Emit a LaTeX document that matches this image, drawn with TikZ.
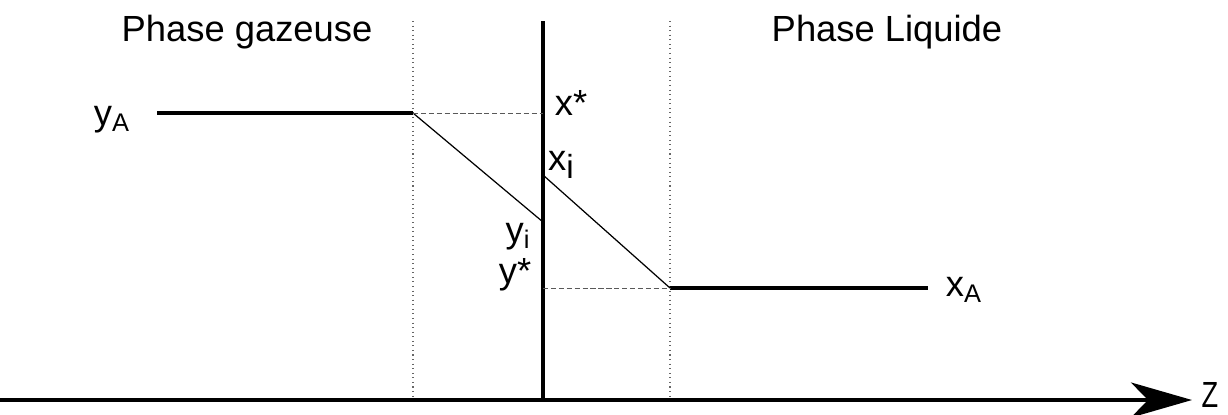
\documentclass[tikz,border=0pt]{standalone}
\usepackage{fontspec}
\setmainfont{Liberation Sans}
\usetikzlibrary{arrows.meta}

\begin{document}
\begin{tikzpicture}[x=0.02cm, y=-0.02cm]
  \tikzset{
    thick_line/.style={line width=2.3pt},
    thin_line/.style={line width=0.7pt},
    dash_line/.style={line width=0.4pt, dashed, dash pattern=on 3pt off 1.5pt, gray!70!black},
    dot_line/.style={line width=0.6pt, dotted, gray!80!black},
    big_label/.style={inner sep=0pt, font=\fontsize{20.7}{24}\selectfont}
  }

  % Bounding box
  \useasboundingbox (0,0) rectangle (1228,414);

  % Points du profil
  \coordinate (axe_debut) at (0,400);
  \coordinate (axe_fin) at (1192,400);
  \coordinate (inter_haut) at (543,21);
  \coordinate (inter_bas) at (543,400);
  \coordinate (film_g_haut) at (413,21);
  \coordinate (film_g_bas) at (413,400);
  \coordinate (film_l_haut) at (670,21);
  \coordinate (film_l_bas) at (670,400);
  \coordinate (yA_debut) at (157,113);
  \coordinate (yA_fin) at (413,113);
  \coordinate (yi_pt) at (543,222);
  \coordinate (xstar_pt) at (543,113);
  \coordinate (xi_pt) at (543,175);
  \coordinate (xA_debut) at (670,288);
  \coordinate (xA_fin) at (928,288);
  \coordinate (ystar_pt) at (543,288);

  % Axe z et interface
  \draw[thick_line, -{Stealth[length=1.22cm, width=0.7cm, inset=0.34cm]}] (axe_debut) -- (axe_fin);
  \draw[thick_line] (inter_haut) -- (inter_bas);

  % Films
  \draw[dot_line] (film_g_haut) -- (film_g_bas);
  \draw[dot_line] (film_l_haut) -- (film_l_bas);

  % Profils de concentration
  \draw[thick_line] (yA_debut) -- (yA_fin);
  \draw[thin_line] (yA_fin) -- (yi_pt);
  \draw[dash_line] (yA_fin) -- (xstar_pt);
  \draw[thin_line] (xi_pt) -- (xA_debut);
  \draw[thick_line] (xA_debut) -- (xA_fin);
  \draw[dash_line] (ystar_pt) -- (xA_debut);

  % Etiquettes
  \node[big_label] (gaz) at (247,32) {Phase gazeuse};
  \node[big_label] (liq) at (887,32) {Phase Liquide};
  \node[big_label] (yA) at (112,120) {y\textsubscript{A}};
  \node[big_label] (xstar) at (571,103) {x*};
  \node[big_label] (xi) at (561,165) {x\raisebox{-0.22em}{\fontsize{19}{20}\selectfont i}};
  \node[big_label] (yi) at (518,237) {y\textsubscript{i}};
  \node[big_label] (ystar) at (515,275) {y*};
  \node[big_label] (xA) at (964,290) {x\textsubscript{A}};
  \node[big_label, xscale=0.75] (z) at (1210,395) {Z};
\end{tikzpicture}
\end{document}
